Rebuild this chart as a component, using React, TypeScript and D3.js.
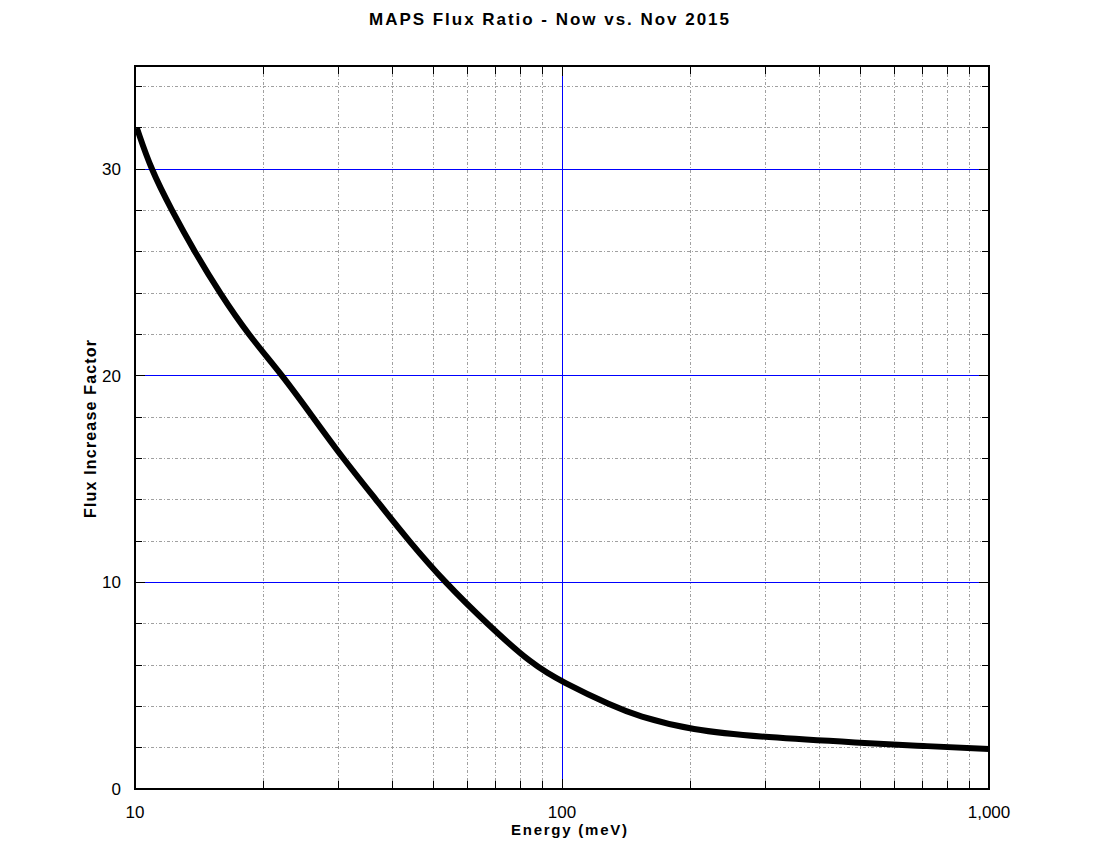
import React, { useEffect, useRef } from 'react';
import * as d3 from 'd3';

// values
const energy = [10.1, 10.9, 12.2, 13.8, 15.8, 18.4, 22.2, 26.1, 30.7, 36.7, 43.8, 53.2, 66.7, 85.5, 100, 131.6, 150, 200, 300, 500, 700, 1000];
const factor = [32.0, 30.0, 28.0, 26.0, 24.0, 22.0, 20.0, 18.0, 16.0, 14.0, 12.0, 10.0, 8.0, 6.0, 5.19, 4.0, 3.55, 2.85, 2.5, 2.24, 2.08, 1.94];
const yMajor = [0, 10, 20, 30];
const yMinor = [2, 4, 6, 8, 12, 14, 16, 18, 22, 24, 26, 28, 32, 34];
const xMajor = [10, 100, 1000];
const xMinor = [20, 30, 40, 50, 60, 70, 80, 90, 200, 300, 400, 500, 600, 700, 800, 900];

const W = 1100, H = 850;
const left = 135, right = 989, top = 66, bottom = 789;

export default function App() {
  const ref = useRef<SVGSVGElement>(null);

  useEffect(() => {
    const svg = d3.select(ref.current);
    svg.selectAll('*').remove();

    const x = d3.scaleLog().domain([10, 1000]).range([left, right]);
    const y = d3.scaleLinear().domain([0, 35]).range([bottom, top]);
    const g = svg.append('g');
    const grid = g.append('g').attr('shape-rendering', 'crispEdges');

    // minor grid
    grid.selectAll('line.ygm').data(yMinor).enter().append('line')
      .attr('x1', left).attr('x2', right)
      .attr('y1', d => y(d)).attr('y2', d => y(d))
      .attr('stroke', '#a0a0a0').attr('stroke-dasharray', '3,2,1,2');
    grid.selectAll('line.xgm').data(xMinor).enter().append('line')
      .attr('x1', d => x(d)).attr('x2', d => x(d))
      .attr('y1', top).attr('y2', bottom)
      .attr('stroke', '#a0a0a0').attr('stroke-dasharray', '3,2,1,2');

    // major grid
    grid.selectAll('line.ygM').data(yMajor.filter(d => d > 0)).enter().append('line')
      .attr('x1', left).attr('x2', right)
      .attr('y1', d => y(d)).attr('y2', d => y(d))
      .attr('stroke', '#0000ff');
    grid.selectAll('line.xgM').data(xMajor.slice(1, 2)).enter().append('line')
      .attr('x1', d => x(d)).attr('x2', d => x(d))
      .attr('y1', top).attr('y2', bottom)
      .attr('stroke', '#0000ff');

    // ticks
    const tick = (vals: number[], len: number) => {
      vals.forEach(v => {
        grid.append('line').attr('x1', left).attr('x2', left + len).attr('y1', y(v)).attr('y2', y(v)).attr('stroke', '#000');
        grid.append('line').attr('x1', right - len).attr('x2', right).attr('y1', y(v)).attr('y2', y(v)).attr('stroke', '#000');
      });
    };
    tick(yMinor, 7);
    tick(yMajor, 10);
    [...xMinor, 100].forEach(v => {
      const len = v === 100 ? 10 : 8;
      grid.append('line').attr('x1', x(v)).attr('x2', x(v)).attr('y1', bottom).attr('y2', bottom - len).attr('stroke', '#000');
      grid.append('line').attr('x1', x(v)).attr('x2', x(v)).attr('y1', top).attr('y2', top + len).attr('stroke', '#000');
    });

    // curve
    const pts = energy.map((e, i) => [e, factor[i]] as [number, number]);
    const line = d3.line<[number, number]>()
      .x(d => x(d[0])).y(d => y(d[1]))
      .curve(d3.curveBasis);
    g.append('path').attr('d', line(pts))
      .attr('fill', 'none').attr('stroke', '#000')
      .attr('stroke-width', 6).attr('stroke-linecap', 'butt');

    // frame
    g.append('rect').attr('x', left).attr('y', top)
      .attr('width', right - left).attr('height', bottom - top)
      .attr('fill', 'none').attr('stroke', '#000').attr('stroke-width', 2)
      .attr('shape-rendering', 'crispEdges');

    // tick labels
    const font = 'Liberation Sans, Arial, sans-serif';
    g.selectAll('text.yl').data(yMajor).enter().append('text')
      .attr('x', 121).attr('y', d => y(d) + 6)
      .attr('text-anchor', 'end').attr('font-family', font).attr('font-size', 17)
      .text(d => d);
    g.selectAll('text.xl').data(xMajor).enter().append('text')
      .attr('x', d => x(d)).attr('y', 818)
      .attr('text-anchor', 'middle').attr('font-family', font).attr('font-size', 17)
      .text(d => d3.format(',')(d));

    // titles
    g.append('text').attr('x', 549).attr('y', 25)
      .attr('text-anchor', 'middle').attr('font-family', font).attr('font-size', 17)
      .attr('font-weight', 'bold').attr('textLength', 360).attr('lengthAdjust', 'spacing')
      .text('MAPS Flux Ratio - Now vs. Nov 2015');
    g.append('text').attr('x', 569).attr('y', 835)
      .attr('text-anchor', 'middle').attr('font-family', font).attr('font-size', 15)
      .attr('font-weight', 'bold').attr('textLength', 116).attr('lengthAdjust', 'spacing')
      .text('Energy (meV)');
    g.append('text').attr('transform', 'translate(96,429) rotate(-90)')
      .attr('text-anchor', 'middle').attr('font-family', font).attr('font-size', 16)
      .attr('font-weight', 'bold').attr('textLength', 178).attr('lengthAdjust', 'spacing')
      .text('Flux Increase Factor');
  }, []);

  return (
    <svg ref={ref} width={W} height={H}
      style={{ position: 'absolute', left: 0, top: 0, background: '#fff' }} />
  );
}
